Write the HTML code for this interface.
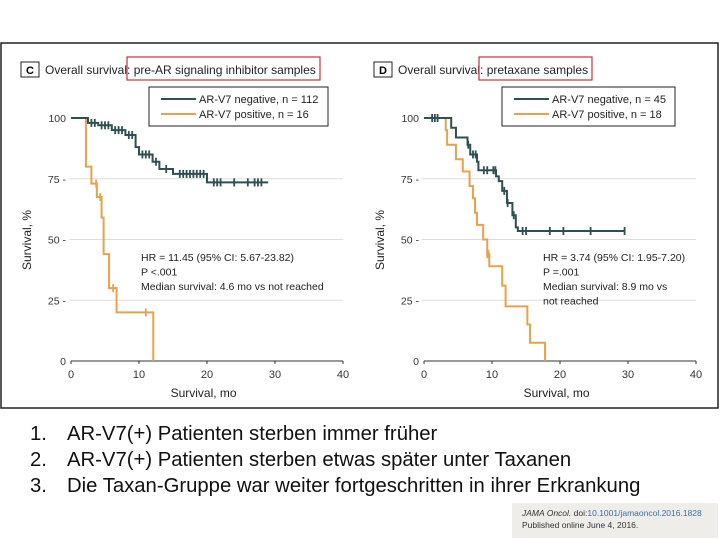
<!DOCTYPE html>
<html><head><meta charset="utf-8"><style>
body{margin:0;width:720px;height:540px;background:#fff;overflow:hidden;font-family:"Liberation Sans",sans-serif;position:relative}
.list{position:absolute;left:30px;font-size:20.3px;color:#111}
.list span{position:absolute;left:37px;white-space:nowrap}
</style></head><body>
<svg id="chart" width="720" height="420" style="position:absolute;left:0;top:0" font-family="Liberation Sans, sans-serif">
<rect x="1" y="43" width="717" height="365" fill="none" stroke="#222" stroke-width="1.5"/>
</svg>
<div class="list" style="top:423px">1.<span>AR-V7(+) Patienten sterben immer früher</span></div>
<div class="list" style="top:449px">2.<span>AR-V7(+) Patienten sterben etwas später unter Taxanen</span></div>
<div class="list" style="top:475px">3.<span>Die Taxan-Gruppe war weiter fortgeschritten in ihrer Erkrankung</span></div>
<div style="position:absolute;left:512px;top:503px;width:206px;height:35px;background:#efedea;font-size:8.5px;color:#333;line-height:12px;padding:4px 0 0 10px;box-sizing:border-box"><i>JAMA Oncol.</i> doi:<span style="color:#3a6ea5">10.1001/jamaoncol.2016.1828</span><br>Published online June 4, 2016.</div>
<script>
const xTicks=[0,10,20,30,40];
const yTicks=[0,25,50,75,100];
const negC=[[0,100],[2.5,98],[4,97],[6,95],[8,93],[9.5,88],[10,85],[12,82],[13,79],[15,77],[20,73.5],[29,73.5]];
const negCCens=[3,3.5,4.5,5,5.5,6.5,7,7.5,8.5,9,10.5,11,11.5,12.5,14,16,16.5,17,17.5,18,18.5,19,19.5,21,21.5,22,24,26,27,27.5,28];
const posC=[[0,100],[2.2,80],[3.0,73],[3.8,67.5],[4.5,59],[4.8,44],[5.6,30],[6.7,20],[12.1,0]];
const posCCens=[3.7,4.3,6.2,11];
const negD=[[0,100],[4,96],[4.7,92],[6.4,89],[6.8,85],[7.8,82],[8,78.5],[10.6,76],[11,74],[11.5,70],[12.2,65],[13,60],[13.5,55],[13.8,53.5],[29.5,53.5]];
const negDCens=[1.2,1.6,2,6.5,7.2,7.6,8.8,9.3,10.2,10.5,11.8,12.3,13.2,14.5,15,18.5,20.5,24.5,29.5];
const posD=[[0,100],[3.2,95],[3.4,89],[4.7,83],[5.7,78],[6.7,72],[7.2,67],[7.5,61],[7.8,56],[8.7,50],[9.3,44],[9.6,39],[11.5,31],[12,22.5],[15.2,15],[15.6,7.5],[17.8,0]];
const posDCens=[9.3,9.5];
const svg=document.getElementById('chart');
const NS='http://www.w3.org/2000/svg';
function mk(tag,attrs,txt){const e=document.createElementNS(NS,tag);for(const k in attrs)e.setAttribute(k,attrs[k]);if(txt!==undefined)e.textContent=txt;svg.appendChild(e);return e;}
const yS=p=>361-p*2.43;
const NEG='#2f4f52',POS='#e8a24c';
function panel(id,x0,letter,title,redX,redW,legNeg,legPos,neg,negCens,pos,posCens,ann,annX){
  const xS=m=>x0+m*6.8;
  let e;
  e=mk('rect',{x:x0-50,y:62,width:18,height:15,fill:'none',stroke:'#222','stroke-width':1});
  
  e=mk('text',{x:x0-41,y:74,'font-size':11,'font-weight':'bold','text-anchor':'middle'},letter);
  
  e=mk('text',{x:x0-26,y:74,'font-size':12,fill:'#222'},title);
  
  e=mk('rect',{x:redX,y:57,width:redW,height:23,fill:'none',stroke:'#c0343a','stroke-width':1.2});
  
  yTicks.forEach(t=>{
    if(t>0&&t<100){e=mk('line',{x1:x0-2,x2:xS(40),y1:yS(t),y2:yS(t),stroke:'#ddd','stroke-width':1});
    }
    e=mk('text',{x:x0-5,y:yS(t)+4,'font-size':10.5,'text-anchor':'end',fill:'#333'},t+(t>0&&t<100?' -':''));
    
  });
  xTicks.forEach(t=>{
    e=mk('line',{x1:xS(t),x2:xS(t),y1:361,y2:364,stroke:'#333'});
    
    e=mk('text',{x:xS(t),y:378,'font-size':11,'text-anchor':'middle',fill:'#333'},t);
    
  });
  e=mk('line',{x1:x0,x2:xS(40),y1:361,y2:361,stroke:'#333'});
  
  e=mk('text',{x:xS(19.5),y:397,'font-size':12,'text-anchor':'middle',fill:'#222'},'Survival, mo');
  
  e=mk('text',{x:0,y:0,'font-size':12,'text-anchor':'middle',fill:'#222',transform:`translate(${x0-40},240) rotate(-90)`},'Survival, %');
  
  function curve(data,cens,col,name){
    let d=`M${xS(data[0][0])},${yS(data[0][1])}`;
    for(let i=1;i<data.length;i++){d+=` H${xS(data[i][0])} V${yS(data[i][1])}`;}
    const p=mk('path',{d:d,fill:'none',stroke:col,'stroke-width':2});
    
    cens.forEach(c=>{let v=data[0][1];data.forEach(s=>{if(s[0]<=c)v=s[1];});
      const m=mk('line',{x1:xS(c),x2:xS(c),y1:yS(v)-4,y2:yS(v)+4,stroke:col,'stroke-width':1.8});
      });
  }
  curve(pos,posCens,POS,'positive');
  curve(neg,negCens,NEG,'negative');
  const lx=x0+78;
  e=mk('rect',{x:lx,y:87,width:id==='panel-c'?179:173,height:39,fill:'#fff',stroke:'#222','stroke-width':1});
  
  e=mk('line',{x1:lx+12,x2:lx+47,y1:99,y2:99,stroke:NEG,'stroke-width':2});
  
  e=mk('text',{x:lx+50,y:103,'font-size':11,fill:'#222'},legNeg);
  
  e=mk('line',{x1:lx+12,x2:lx+47,y1:114,y2:114,stroke:POS,'stroke-width':2});
  
  e=mk('text',{x:lx+50,y:118,'font-size':11,fill:'#222'},legPos);
  
  ann.forEach((t,i)=>{e=mk('text',{x:annX,y:261+i*14.5,'font-size':10.5,fill:'#222'},t);
    });
}
panel('panel-c',71,'C','Overall survival: pre-AR signaling inhibitor samples',127,193,'AR-V7 negative, n = 112','AR-V7 positive, n = 16',negC,negCCens,posC,posCCens,['HR = 11.45 (95% CI: 5.67-23.82)','P <.001','Median survival: 4.6 mo vs not reached'],141);
panel('panel-d',424,'D','Overall survival: pretaxane samples',479,113,'AR-V7 negative, n = 45','AR-V7 positive, n = 18',negD,negDCens,posD,posDCens,['HR = 3.74 (95% CI: 1.95-7.20)','P =.001','Median survival: 8.9 mo vs','not reached'],543);
</script>
</body></html>
